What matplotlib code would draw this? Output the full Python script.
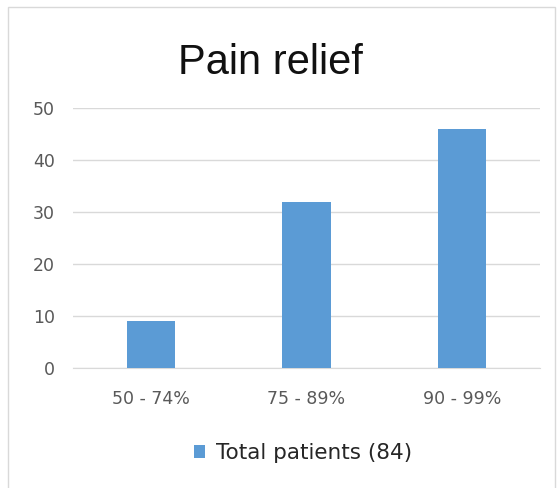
import matplotlib.pyplot as plt
from matplotlib.patches import Rectangle

# Data
categories = ['50 - 74%', '75 - 89%', '90 - 99%']
patients = [9, 32, 46]
series_name = 'Total patients (84)'

fig = plt.figure(figsize=(5.58, 4.88), dpi=100)
ax = fig.add_axes([73/558, 1-368/488, (540-73)/558, (368-108)/488])

ax.bar(categories, patients, width=0.31, color='#5B9BD5', zorder=3, label=series_name)
ax.set_xlim(-0.5, 2.5)
ax.set_ylim(0, 50)
ax.set_yticks(range(0, 51, 10))
ax.grid(axis='y', color='#D9D9D9', linewidth=1, zorder=0)
for s in ['top', 'right', 'left']:
    ax.spines[s].set_visible(False)
ax.spines['bottom'].set_color('#D9D9D9')
ax.tick_params(axis='both', length=0, colors='#595959', labelsize=12.5)
ax.tick_params(axis='x', pad=16)
ax.tick_params(axis='y', pad=13)

fig.text(0.484, 1-63/488, 'Pain relief', ha='center', va='center',
         fontsize=30, family='Liberation Sans', color='#111111')

fig.legend(loc='center', bbox_to_anchor=(0.543, 1-453/488), frameon=False,
           fontsize=15.5, handlelength=0.55, handleheight=0.55, handletextpad=0.5,
           labelcolor='#262626')

# light outer border
fig.patches.append(Rectangle((8/558, -0.01), (555-8)/558, 1-7/488+0.01,
                             transform=fig.transFigure, fill=False,
                             edgecolor='#D9D9D9', linewidth=1))

fig.savefig('out.png')
